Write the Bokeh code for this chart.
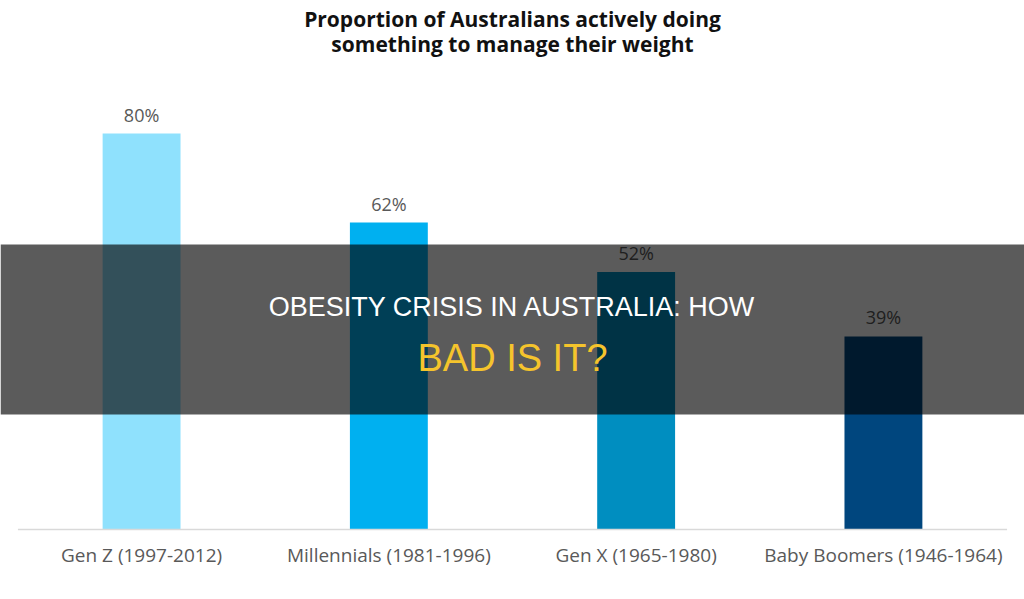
from bokeh.plotting import figure
from bokeh.models import Range1d, BoxAnnotation, Label, ColumnDataSource
from bokeh.core.properties import value
from bokeh.embed import file_html
from bokeh.resources import INLINE

# ---- data ----
categories = ["Gen Z (1997-2012)", "Millennials (1981-1996)", "Gen X (1965-1980)", "Baby Boomers (1946-1964)"]
shares = [80, 62, 52, 39]
share_labels = ["80%", "62%", "52%", "39%"]
bar_colors = ["#8FE1FD", "#00B0F0", "#008EC0", "#00467E"]
title_lines = ["Proportion of Australians actively doing", "something to manage their weight"]
banner_lines = ["OBESITY CRISIS IN AUSTRALIA: HOW", "BAD IS IT?"]

W, H = 1024, 599
px_per_unit = 4.95
base_px = 529  # baseline position from top
shift = 9      # empirical correction of rendered text baseline

xs = [i + 0.5 for i in range(len(categories))]
src = ColumnDataSource(dict(x=xs, top=shares, lab=share_labels, cat=categories, color=bar_colors))

p = figure(width=W, height=H, output_backend="svg", toolbar_location=None,
           min_border=0, min_border_left=0, min_border_right=0,
           min_border_top=0, min_border_bottom=0)
p.x_range = Range1d(-0.0705, len(categories) + 0.0705)
p.y_range = Range1d(-(H - base_px) / px_per_unit, base_px / px_per_unit)
p.axis.visible = False
p.grid.visible = False
p.outline_line_color = None
p.background_fill_color = "white"
p.border_fill_color = "white"

# bars
p.vbar(x="x", top="top", bottom=0, width=0.315, color="color", line_color=None, source=src)

# baseline
p.segment(x0=[0], x1=[len(categories)], y0=[0], y1=[0], line_color="#D9D9D9", line_width=1.5)

# value labels
p.text(x="x", y="top", text="lab", source=src, y_offset=-10 - shift,
       text_font=value("Open Sans"), text_font_size="18px", text_color="#595959",
       text_align="center", text_baseline="alphabetic")

# category labels
p.text(x="x", y=0, text="cat", source=src, y_offset=34 - shift,
       text_font=value("Open Sans"), text_font_size="19px", text_color="#595959",
       text_align="center", text_baseline="alphabetic")

def py(px):
    return (base_px - (px - shift)) / px_per_unit

mid = len(categories) / 2

# chart title
for line, ypx in zip(title_lines, [27, 52]):
    p.add_layout(Label(x=mid, y=py(ypx), text=line, text_font="Open Sans",
                       text_font_style="bold", text_font_size="21px", text_color="#111111",
                       text_align="center", text_baseline="alphabetic"))

# dark overlay banner
p.add_layout(BoxAnnotation(bottom=(base_px - 414) / px_per_unit, top=(base_px - 244) / px_per_unit,
                           fill_color="black", fill_alpha=0.645, line_color=None))

p.add_layout(Label(x=mid, y=py(315), text=banner_lines[0], text_font="Liberation Sans",
                   text_font_size="27px", text_color="white",
                   text_align="center", text_baseline="alphabetic"))
p.add_layout(Label(x=mid, y=py(366), text=banner_lines[1], text_font="Liberation Sans",
                   text_font_size="38px", text_color="#F5C42C",
                   text_align="center", text_baseline="alphabetic"))

open("out.html", "w").write(file_html(p, INLINE))
